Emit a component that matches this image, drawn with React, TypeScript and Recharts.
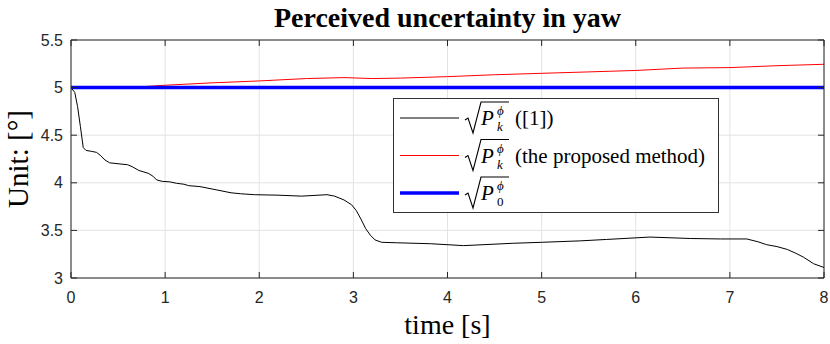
import { LineChart, Line, XAxis, YAxis, CartesianGrid, Legend, Label } from 'recharts'

// time stamps [s] and sqrt(P) values [deg]
const baselineTime = [0, 0.04, 0.07, 0.1, 0.13, 0.16, 0.22, 0.27, 0.31, 0.36, 0.41, 0.5, 0.6, 0.65, 0.72, 0.82, 0.87, 0.91, 0.97, 1.05, 1.12, 1.2, 1.25, 1.37, 1.55, 1.7, 1.8, 1.95, 2.2, 2.45, 2.72, 2.8, 2.9, 2.98, 3.03, 3.08, 3.13, 3.18, 3.23, 3.3, 3.46, 3.82, 4.17, 4.7, 5.0, 5.41, 5.69, 6.15, 6.58, 6.9, 7.18, 7.3, 7.39, 7.5, 7.61, 7.7, 7.78, 7.89, 8.0]
const baselineSigma = [5.0, 4.95, 4.8, 4.59, 4.37, 4.34, 4.33, 4.32, 4.29, 4.24, 4.21, 4.2, 4.19, 4.17, 4.13, 4.1, 4.07, 4.03, 4.015, 4.01, 3.995, 3.985, 3.97, 3.96, 3.925, 3.895, 3.885, 3.875, 3.87, 3.86, 3.875, 3.86, 3.82, 3.77, 3.71, 3.62, 3.52, 3.45, 3.4, 3.375, 3.37, 3.36, 3.34, 3.365, 3.375, 3.39, 3.405, 3.43, 3.415, 3.41, 3.41, 3.38, 3.35, 3.33, 3.3, 3.26, 3.22, 3.15, 3.11]

const proposedTime = [0, 0.6, 1.0, 1.5, 2.0, 2.5, 2.9, 3.2, 3.5, 4.0, 4.5, 5.0, 5.5, 6.0, 6.5, 7.0, 7.5, 8.0]
const proposedSigma = [5.0, 5.0, 5.025, 5.05, 5.07, 5.095, 5.105, 5.095, 5.1, 5.115, 5.135, 5.15, 5.165, 5.18, 5.205, 5.21, 5.23, 5.245]

const initialTime = [0, 8]
const initialSigma = [5.0, 5.0]

const xTicks = [0, 1, 2, 3, 4, 5, 6, 7, 8]
const yTicks = [3, 3.5, 4, 4.5, 5, 5.5]

const toPoints = (t: number[], v: number[]) => t.map((time, i) => ({ t: time, v: v[i] }))

const baselineData = toPoints(baselineTime, baselineSigma)
const proposedData = toPoints(proposedTime, proposedSigma)
const initialData = toPoints(initialTime, initialSigma)

const axisColor = '#262626'
const tickFont = { fontSize: 16, fill: axisColor, fontFamily: '"Liberation Sans", Arial, sans-serif' }
const serif = '"Liberation Serif", "Times New Roman", serif'

const legendRows = [
  { color: '#000000', width: 1, sub: 'k', note: '([1])' },
  { color: '#ff0000', width: 1, sub: 'k', note: '(the proposed method)' },
  { color: '#0000ff', width: 3.5, sub: '0', note: '' },
]

const renderLegend = () => (
  <svg width={326} height={115} style={{ display: 'block' }}>
    <rect x={0.5} y={0.5} width={325} height={114} fill="#fff" stroke="#333" strokeWidth={1} />
    {legendRows.map((row, i) => {
      const base = 27 + i * 37.5
      return (
        <g key={i}>
          <line x1={7} x2={66} y1={base - 7} y2={base - 7} stroke={row.color} strokeWidth={row.width} />
          {/* radical sign with its bar */}
          <path
            d={`M72 ${base - 5} L75 ${base - 7} L80 ${base + 8} L88 ${base - 23} L116 ${base - 23}`}
            fill="none"
            stroke="#000"
            strokeWidth={1.1}
          />
          <text x={88} y={base} fontSize={21} fontFamily={serif} fontStyle="italic" fill="#000">P</text>
          <text x={104} y={base - 10} fontSize={13} fontFamily={serif} fontStyle="italic" fill="#000">ϕ</text>
          <text x={104} y={base + 6} fontSize={13} fontFamily={serif} fontStyle={row.sub === 'k' ? 'italic' : 'normal'} fill="#000">{row.sub}</text>
          {row.note && (
            <text x={122} y={base} fontSize={21} fontFamily={serif} fill="#000">{row.note}</text>
          )}
        </g>
      )
    })}
  </svg>
)

export default function App() {
  return (
    <div style={{ position: 'absolute', left: 0, top: 0, background: '#fff' }}>
      <LineChart width={830} height={344} margin={{ top: 39, right: 5, bottom: 36, left: 0 }}>
        <CartesianGrid stroke="#e3e3e3" strokeWidth={1} />
        <XAxis
          dataKey="t"
          type="number"
          domain={[0, 8]}
          ticks={xTicks}
          allowDataOverflow
          height={30}
          stroke={axisColor}
          tickSize={-6}
          tickMargin={20}
          tick={tickFont}
        >
          <Label value="time [s]" position="bottom" offset={6} style={{ fontSize: 28, fontFamily: serif, fill: '#000' }} />
        </XAxis>
        <XAxis
          xAxisId="top"
          orientation="top"
          dataKey="t"
          type="number"
          domain={[0, 8]}
          ticks={xTicks}
          height={1}
          stroke={axisColor}
          tickSize={-6}
          tick={() => <g />}
        >
          <Label value="Perceived uncertainty in yaw" position="top" offset={12} style={{ fontSize: 28, fontWeight: 'bold', fontFamily: serif, fill: '#000' }} />
        </XAxis>
        <YAxis
          type="number"
          domain={[3, 5.5]}
          ticks={yTicks}
          allowDataOverflow
          width={71}
          stroke={axisColor}
          tickSize={-6}
          tickMargin={14}
          tick={tickFont}
        >
          <Label value="Unit: [°]" angle={-90} position="insideLeft" offset={18} textAnchor="middle" style={{ fontSize: 29, fontFamily: serif, fill: '#000', textAnchor: 'middle' }} />
        </YAxis>
        <YAxis
          yAxisId="right"
          orientation="right"
          type="number"
          domain={[3, 5.5]}
          ticks={yTicks}
          width={1}
          stroke={axisColor}
          tickSize={-6}
          tick={() => <g />}
        />
        <Legend
          layout="vertical"
          align="center"
          verticalAlign="middle"
          content={renderLegend}
          wrapperStyle={{ left: 393, top: 98, width: 326, height: 115 }}
        />
        <Line data={baselineData} dataKey="v" name="baseline" stroke="#000000" strokeWidth={1} dot={false} type="linear" isAnimationActive={false} />
        <Line data={proposedData} dataKey="v" name="proposed" stroke="#ff0000" strokeWidth={1} dot={false} type="linear" isAnimationActive={false} />
        <Line data={initialData} dataKey="v" name="initial" stroke="#0000ff" strokeWidth={3.5} dot={false} type="linear" isAnimationActive={false} />
        {/* invisible helpers so the mirrored box axes get registered */}
        <Line data={initialData} dataKey="v" xAxisId="top" yAxisId="right" stroke="none" dot={false} legendType="none" isAnimationActive={false} />
      </LineChart>
    </div>
  )
}
